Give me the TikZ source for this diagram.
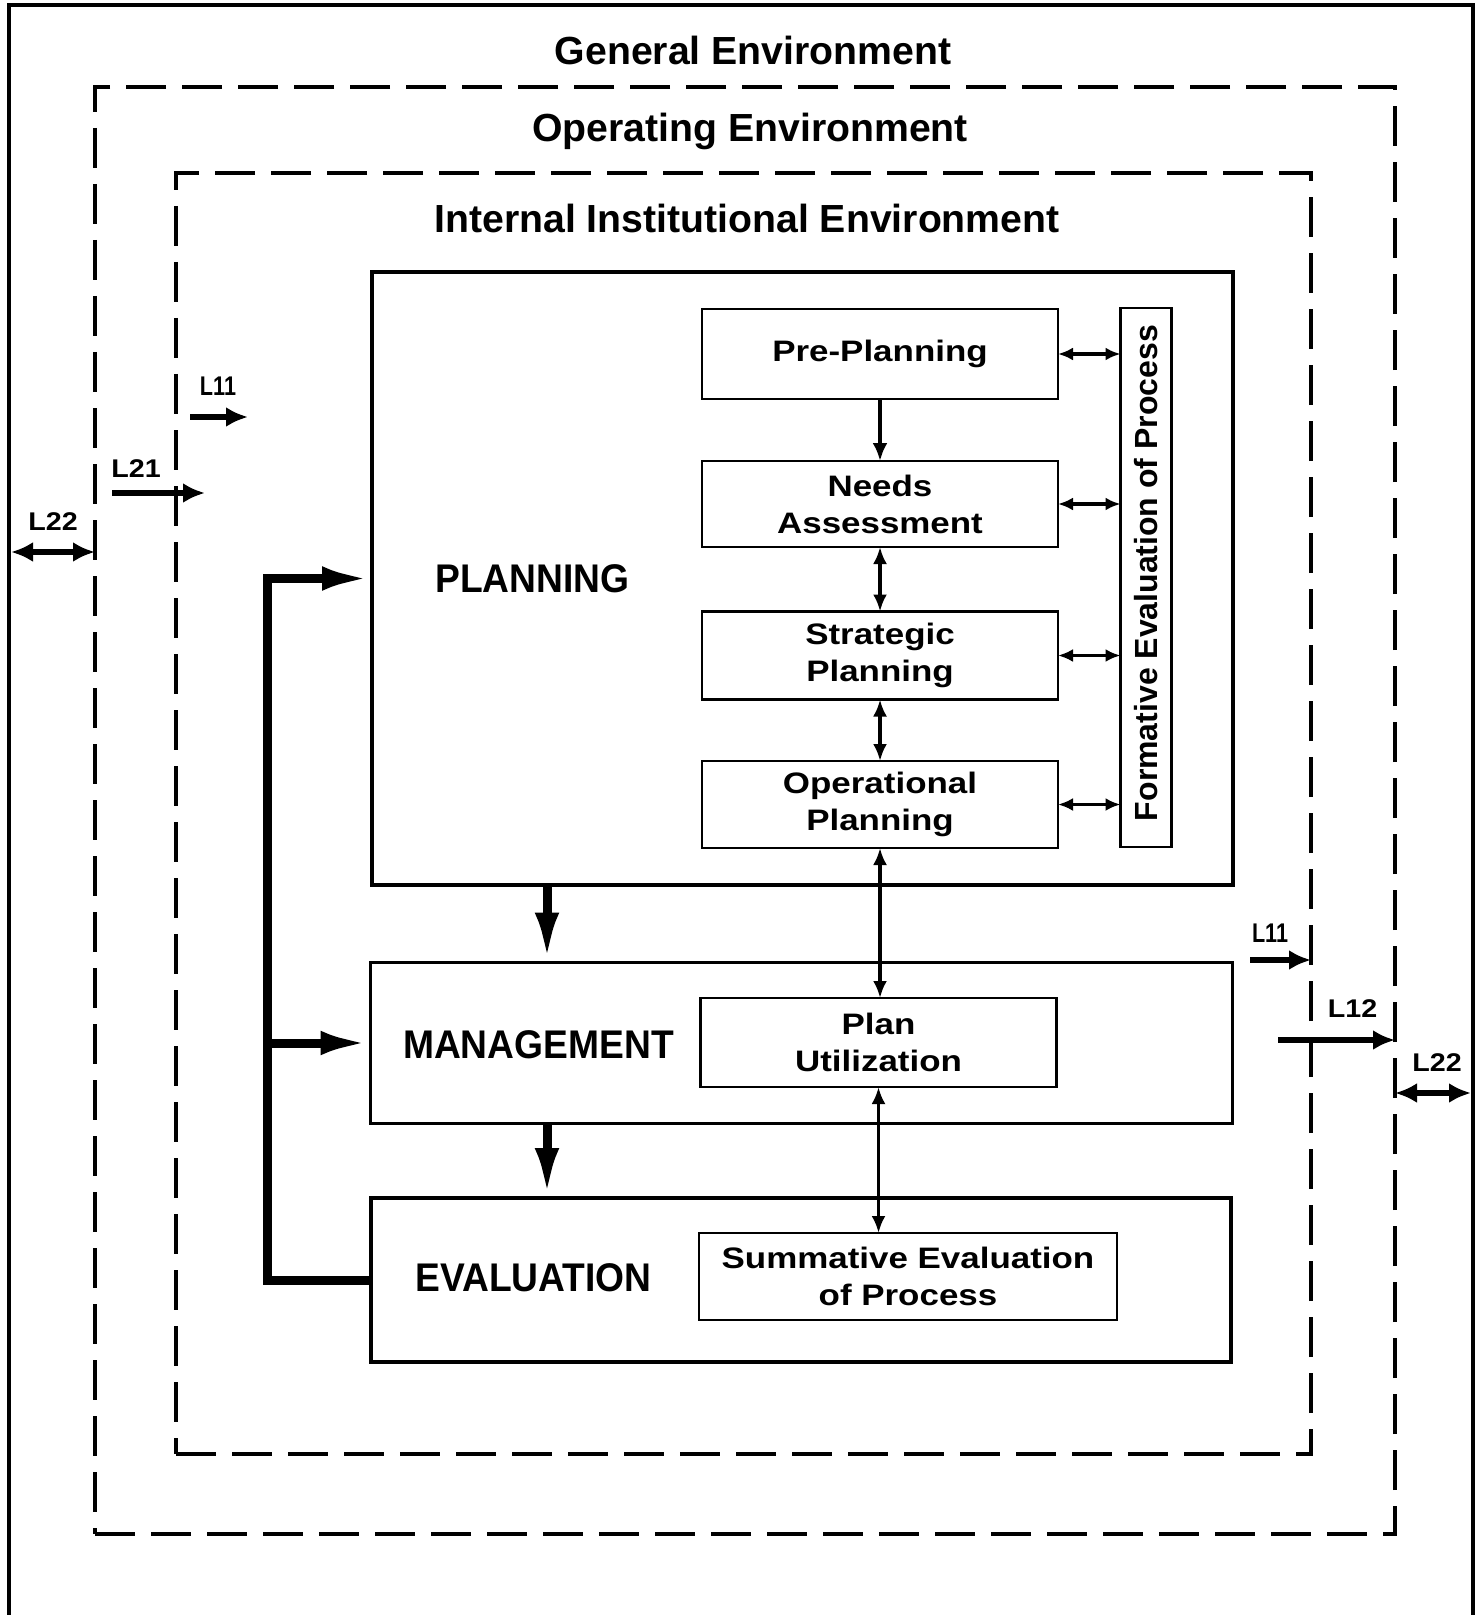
\documentclass[tikz,border=0pt]{standalone}
\usepackage{fontspec}
\setmainfont{Liberation Sans}
\newfontfamily\boxfont{Liberation Sans}[FakeStretch=1.18]
\newfontfamily\stagefont{Liberation Sans}[FakeStretch=0.93]
\newfontfamily\tagfont{Liberation Sans}[FakeStretch=1.12]
\newfontfamily\tagnarrow{Liberation Sans}[FakeStretch=0.8]
\usetikzlibrary{arrows.meta}

\tikzset{
  every node/.style={inner sep=0pt, outer sep=0pt},
  frameline/.style={line width=2pt, line cap=rect, line join=miter},
  envbox/.style={draw, line width=1.9pt, dash pattern=on 20pt off 8pt},
  envtitle/.style={anchor=base, font=\bfseries\fontsize{19.6pt}{23pt}\selectfont},
  stagebox/.style={draw, line width=1.6pt},
  stagelabel/.style={anchor=base, font=\stagefont\bfseries\fontsize{20pt}{23pt}\selectfont},
  subbox/.style={draw, line width=1.4pt, align=center,
    font=\boxfont\bfseries\fontsize{14.8pt}{18.5pt}\selectfont},
  sidetext/.style={rotate=90, font=\bfseries\fontsize{16pt}{19pt}\selectfont},
  tag/.style={anchor=base, font=\tagfont\bfseries\fontsize{12.8pt}{15pt}\selectfont},
  tagthin/.style={anchor=base, font=\tagnarrow\bfseries\fontsize{13.5pt}{15pt}\selectfont},
  heavyarrow/.style={line width=4.5pt, line join=miter, -{Latex[length=25pt,width=12pt]}},
  envarrow/.style={line width=3pt, -{Latex[length=11pt,width=10pt]}},
  envdbl/.style={line width=3pt, {Latex[length=11pt,width=10pt]}-{Latex[length=11pt,width=10pt]}},
  smallone/.style={line width=2pt, -{Latex[length=9pt,width=7.5pt]}},
  smalldbl/.style={line width=1.7pt, {Latex[length=8.5pt,width=7pt]}-{Latex[length=8.5pt,width=7pt]}},
  sidedbl/.style={line width=1.6pt, {Latex[length=7.5pt,width=6.5pt]}-{Latex[length=7.5pt,width=6.5pt]}}
}

\begin{document}
\begin{tikzpicture}[x=0.5pt, y=-0.5pt]
\useasboundingbox (0,0) rectangle (1477,1615);

% outer frame of the general environment
\draw[frameline] (9,1615) -- (9,5) -- (1473,5) -- (1473,1615);
\node[envtitle] (tgeneral) at (753,65) {General Environment};

% operating and internal environments
\node[envbox, minimum width=650pt, minimum height=723.5pt] (operating) at (745,810.5) {};
\node[envtitle] (toperating) at (750,142) {Operating Environment};
\node[envbox, minimum width=567.5pt, minimum height=640.5pt] (internal) at (743.5,813.5) {};
\node[envtitle] (tinternal) at (747,233) {Internal Institutional Environment};

% the three stages
\node[stagebox, minimum width=430.5pt, minimum height=306.5pt] (plan) at (802.5,578.5) {};
\node[stagebox, minimum width=431pt, minimum height=80.5pt] (mgmt) at (801.5,1043) {};
\node[stagebox, minimum width=430pt, minimum height=82pt] (eval) at (801,1280) {};
\node[stagelabel] (lplan) at (532.5,592) {PLANNING};
\node[stagelabel] (lmgmt) at (538.5,1058) {MANAGEMENT};
\node[stagelabel] (leval) at (533.5,1291) {EVALUATION};

% planning steps
\node[subbox, minimum width=178pt, minimum height=45pt] (pre) at (880,354) {Pre-Planning};
\node[subbox, minimum width=178pt, minimum height=43pt] (needs) at (880,504) {Needs\\Assessment};
\node[subbox, minimum width=178pt, minimum height=44pt] (strat) at (880,655.5) {Strategic\\Planning};
\node[subbox, minimum width=178pt, minimum height=43.5pt] (oper) at (880,804.5) {Operational\\Planning};
\node[subbox, minimum width=25.5pt, minimum height=269.5pt] (form) at (1146,577.5) {};
\node[sidetext] (formtext) at (1146,573) {Formative Evaluation of Process};

\node[subbox, minimum width=178pt, minimum height=44.5pt] (util) at (878.5,1042.5) {Plan\\Utilization};
\node[subbox, minimum width=209pt, minimum height=43.5pt] (summ) at (908,1276.5) {Summative Evaluation\\of Process};

% flow between the planning steps
\draw[smallone] (pre.south) -- (needs.north);
\draw[smalldbl] (needs.south) -- (strat.north);
\draw[smalldbl] (strat.south) -- (oper.north);
\draw[smalldbl] (oper.south) -- (oper.south |- util.north);
\draw[smalldbl] (util.south) -- (util.south |- summ.north);
\foreach \b in {pre,needs,strat,oper}
  \draw[sidedbl] (\b.east) -- (\b.east -| form.west);

% feedback loop and stage sequence
\coordinate (spine) at (267,578.5);
\coordinate (downx) at (547,0);
\draw[heavyarrow] (eval.west) -| (spine) -- (plan.west);
\draw[heavyarrow] (spine |- mgmt.west) -- (mgmt.west);
\draw[heavyarrow] (plan.south -| downx) -- (mgmt.north -| downx);
\draw[heavyarrow] (mgmt.south -| downx) -- (eval.north -| downx);

% linkages across the environments
\coordinate (l22ls) at (11,552);
\draw[envdbl] (l22ls) -- (l22ls -| operating.west);
\node[tag] (tl22l) at (53,530) {L22};
\coordinate (l21s) at (112,493);
\coordinate (l21e) at (205,493);
\draw[envarrow] (l21s) -- (l21e);
\node[tag] (tl21) at (136,477) {L21};
\coordinate (l11ls) at (190,417);
\coordinate (l11le) at (248,417);
\draw[envarrow] (l11ls) -- (l11le);
\node[tagthin] (tl11l) at (218,395) {L11};

\coordinate (l11rs) at (1250,960);
\draw[envarrow] (l11rs) -- (l11rs -| internal.east);
\node[tagthin] (tl11r) at (1270,942) {L11};
\coordinate (l12s) at (1278,1040);
\draw[envarrow] (l12s) -- (l12s -| operating.east);
\node[tag] (tl12) at (1352.5,1017) {L12};
\coordinate (l22rs) at (1471,1093);
\draw[envdbl] (l22rs -| operating.east) -- (l22rs);
\node[tag] (tl22r) at (1437,1071) {L22};
\end{tikzpicture}
\end{document}
